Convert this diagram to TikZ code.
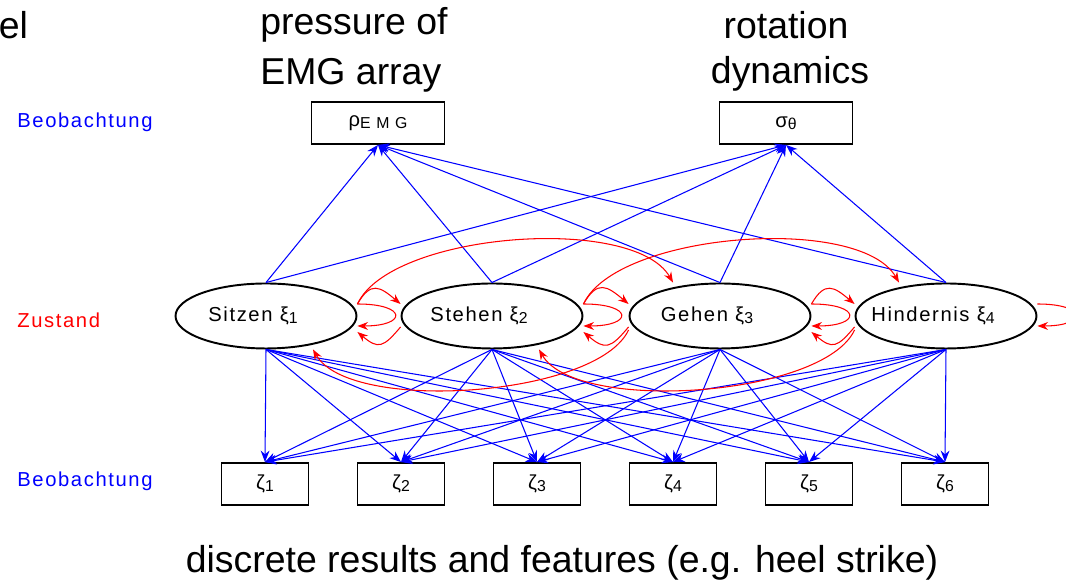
\documentclass[tikz,border=0pt]{standalone}
\usepackage{fontspec}
\setmainfont{Liberation Sans}
\newfontfamily\spacedfont[LetterSpace=8]{Liberation Sans}
\usetikzlibrary{arrows.meta,shapes.geometric}
\newcommand{\lowsub}[1]{\raisebox{-1.2pt}{\fontsize{9}{9}\selectfont #1}}
\newcommand{\labelsize}{\spacedfont\fontsize{11.5}{13}\selectfont}
\newcommand{\headsize}{\fontsize{21.3}{25}\selectfont}
\newcommand{\statetext}[1]{\makebox[0pt]{#1\hspace*{.52cm}}}

\begin{document}
\begin{tikzpicture}[x=.02cm,y=.02cm,
  obsbox/.style={draw,line width=1.1pt,minimum width=2.66cm,minimum height=.84cm,inner sep=0pt,font=\labelsize},
  featbox/.style={obsbox,minimum width=1.74cm},
  statenode/.style={draw,ellipse,line width=1.1pt,minimum width=3.62cm,minimum height=1.3cm,inner sep=0pt,font=\labelsize},
  obsedge/.style={blue,line width=.6pt,-{Stealth[length=6.5pt,width=5pt]}},
  trans/.style={red,line width=.6pt,-{Stealth[length=6pt,width=4.5pt]}},
  rowlabel/.style={anchor=base west,inner sep=0pt,font=\labelsize},
  heading/.style={anchor=base,inner sep=0pt,font=\headsize}]
\useasboundingbox (0,0) rectangle (1066,580);
% headings
\node [heading,anchor=base west] (el) at (-1.5,541.4) {el};
\node [heading,anchor=base west] (presA) at (260,545.5) {pressure of};
\node [heading,anchor=base west] (presB) at (260,495.5) {EMG array};
\node [heading] (rotA) at (786,541.5) {rotation};
\node [heading] (rotB) at (790,496.5) {dynamics};
\node [heading] (caption) at (562,7) {discrete results and features (e.g. heel strike)};
% row labels
\node [rowlabel,blue] (obsTop) at (17,452) {Beobachtung};
\node [rowlabel,red] (zust) at (17,252) {Zustand};
\node [rowlabel,blue] (obsBot) at (17,93) {Beobachtung};
% observations
\node [obsbox] (rho) at (378,457) {ρ\lowsub{E M G}};
\node [obsbox] (sig) at (786,457) {σ\lowsub{θ}};
% states
\node [statenode] (s1) at (266,264) {\statetext{Sitzen ξ\lowsub{1}}};
\node [statenode] (s2) at (492,264) {\statetext{Stehen ξ\lowsub{2}}};
\node [statenode] (s3) at (720,264) {\statetext{Gehen ξ\lowsub{3}}};
\node [statenode] (s4) at (946,264) {\statetext{Hindernis ξ\lowsub{4}}};
% features
\foreach \k/\x in {1/265,2/401,3/537,4/673,5/809,6/945}
  \node [featbox] (z\k) at (\x,96) {ζ\lowsub{\k}};
% emissions
\foreach \i in {1,...,4} {
  \draw [obsedge] (s\i.north) -- (rho.south);
  \draw [obsedge] (s\i.north) -- (sig.south);
  \foreach \k in {1,...,6}
    \draw [obsedge] (s\i.south) -- (z\k.north);
}
% self transitions
\foreach \i in {1,...,4}
  \draw [trans] ([yshift=.24cm]s\i.east) .. controls +(50,0) and +(50,0) .. ([yshift=-.2cm]s\i.east);
% neighbours
\foreach \i/\j in {1/2,2/3,3/4} {
  \draw [trans] ([yshift=.24cm]s\i.east) to [out=60,in=140,looseness=1.6] ([yshift=.24cm]s\j.west);
  \draw [trans] ([yshift=-.22cm]s\j.west) to [out=-130,in=-40,looseness=1.6] ([yshift=-.32cm]s\i.east);
}
% skip one state
\foreach \i/\j in {1/3,2/4} {
  \draw [trans] ([yshift=.24cm]s\i.east) to [out=65,in=120,looseness=.64] ([xshift=-.94cm]s\j.north);
  \draw [trans] ([yshift=-.28cm]s\j.west) to [out=-115,in=-60,looseness=.6] ([xshift=.94cm]s\i.south);
}
\end{tikzpicture}
\end{document}
